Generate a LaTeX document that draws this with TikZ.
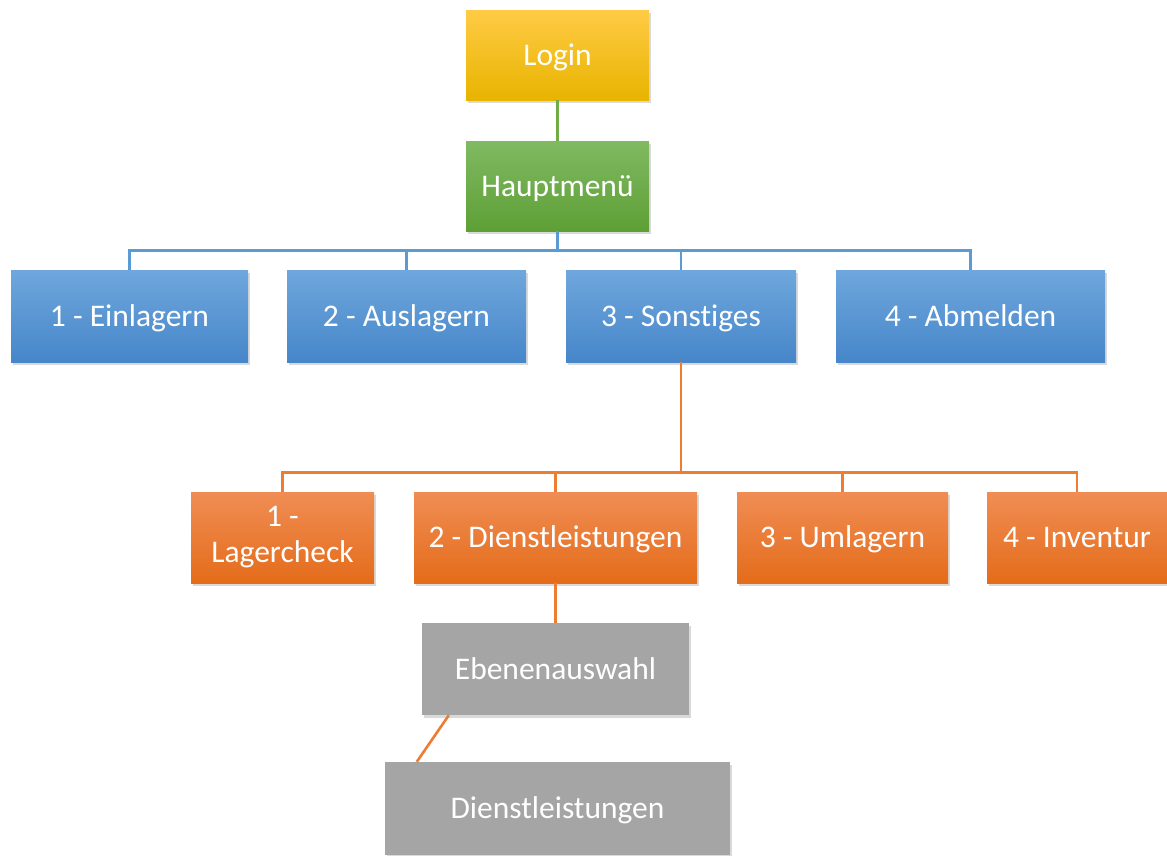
\documentclass[tikz,border=0pt]{standalone}
\usepackage{fontspec}
\setmainfont{Carlito}[Ligatures=NoCommon]
\usetikzlibrary{shadows,calc}

\definecolor{goldTop}{HTML}{FFCB45}
\definecolor{goldMid}{HTML}{FFC000}
\definecolor{goldBot}{HTML}{E8B400}
\definecolor{greenTop}{HTML}{80BA62}
\definecolor{greenBot}{HTML}{5E9F35}
\definecolor{blueTop}{HTML}{6FA7DD}
\definecolor{blueBot}{HTML}{4686C9}
\definecolor{orangeTop}{HTML}{F08D54}
\definecolor{orangeBot}{HTML}{E46C1A}
\definecolor{greyBox}{HTML}{A5A5A5}
\definecolor{lineGreen}{HTML}{70AD47}
\definecolor{lineBlue}{HTML}{5B9BD5}
\definecolor{lineOrange}{HTML}{ED7D31}

\tikzset{
  box/.style={rectangle, inner sep=0pt, align=center, text=white,
    font=\fontsize{31.5}{36}\selectfont, text height=24pt, text depth=4pt,
    drop shadow={opacity=0.3, shadow xshift=2pt, shadow yshift=-3pt}},
  twoline/.style={text height=, text depth=},
  loginbox/.style={box, top color=goldTop, middle color=goldMid, bottom color=goldBot},
  menubox/.style={box, top color=greenTop, bottom color=greenBot},
  mainbox/.style={box, top color=blueTop, bottom color=blueBot},
  subbox/.style={box, top color=orangeTop, bottom color=orangeBot},
  greybox/.style={box, fill=greyBox},
  conn/.style={line width=2.6pt}
}

\begin{document}
\begin{tikzpicture}[x=1pt, y=-1pt]
\useasboundingbox (0,0) rectangle (1167,855);

% top of the tree
\node[loginbox, minimum width=183pt, minimum height=90pt] (login) at (557.5,55) {Login};
\node[menubox, minimum width=183pt, minimum height=90pt] (menu) at (557.5,186) {Hauptmenü};

% main menu entries
\node[mainbox, minimum width=237pt, minimum height=92pt] (ein) at (129.5,316) {1 - Einlagern};
\node[mainbox, minimum width=239pt, minimum height=92pt] (aus) at (406.5,316) {2 - Auslagern};
\node[mainbox, minimum width=230pt, minimum height=92pt] (son) at (681,316) {3 - Sonstiges};
\node[mainbox, minimum width=269pt, minimum height=92pt] (abm) at (970.5,316) {4 - Abmelden};

% entries of "Sonstiges"
\node[subbox, twoline, minimum width=183pt, minimum height=91pt] (lag) at (282.5,537.5) {1 -\\Lagercheck};
\node[subbox, minimum width=283pt, minimum height=91pt] (die) at (555.5,537.5) {2 - Dienstleistungen};
\node[subbox, minimum width=211pt, minimum height=91pt] (uml) at (842.5,537.5) {3 - Umlagern};
\node[subbox, minimum width=180pt, minimum height=91pt] (inv) at (1077,537.5) {4 - Inventur};

% services branch
\node[greybox, minimum width=267pt, minimum height=92pt] (ebe) at (555.5,669) {Ebenenauswahl};
\node[greybox, minimum width=345pt, minimum height=93pt] (dl) at (557.5,808.5) {Dienstleistungen};

% connectors
\draw[conn, lineGreen] (login) -- (menu);

\coordinate (busA) at ($(menu.south)+(0,19)$);
\foreach \n in {ein,aus,son,abm}
  \draw[conn, lineBlue] (menu.south) -- (busA) -| (\n.north);

\coordinate (busB) at ($(son.south)+(0,110)$);
\foreach \n in {lag,die,uml,inv}
  \draw[conn, lineOrange] (son.south) -- (busB) -| (\n.north);

\draw[conn, lineOrange] (die.south) -- (ebe.north);
\coordinate (ebeOut) at ($(ebe.south west)+(27,0)$);
\coordinate (dlIn) at ($(dl.north west)+(32,0)$);
\draw[conn, lineOrange] (ebeOut) -- (dlIn);
\end{tikzpicture}
\end{document}
